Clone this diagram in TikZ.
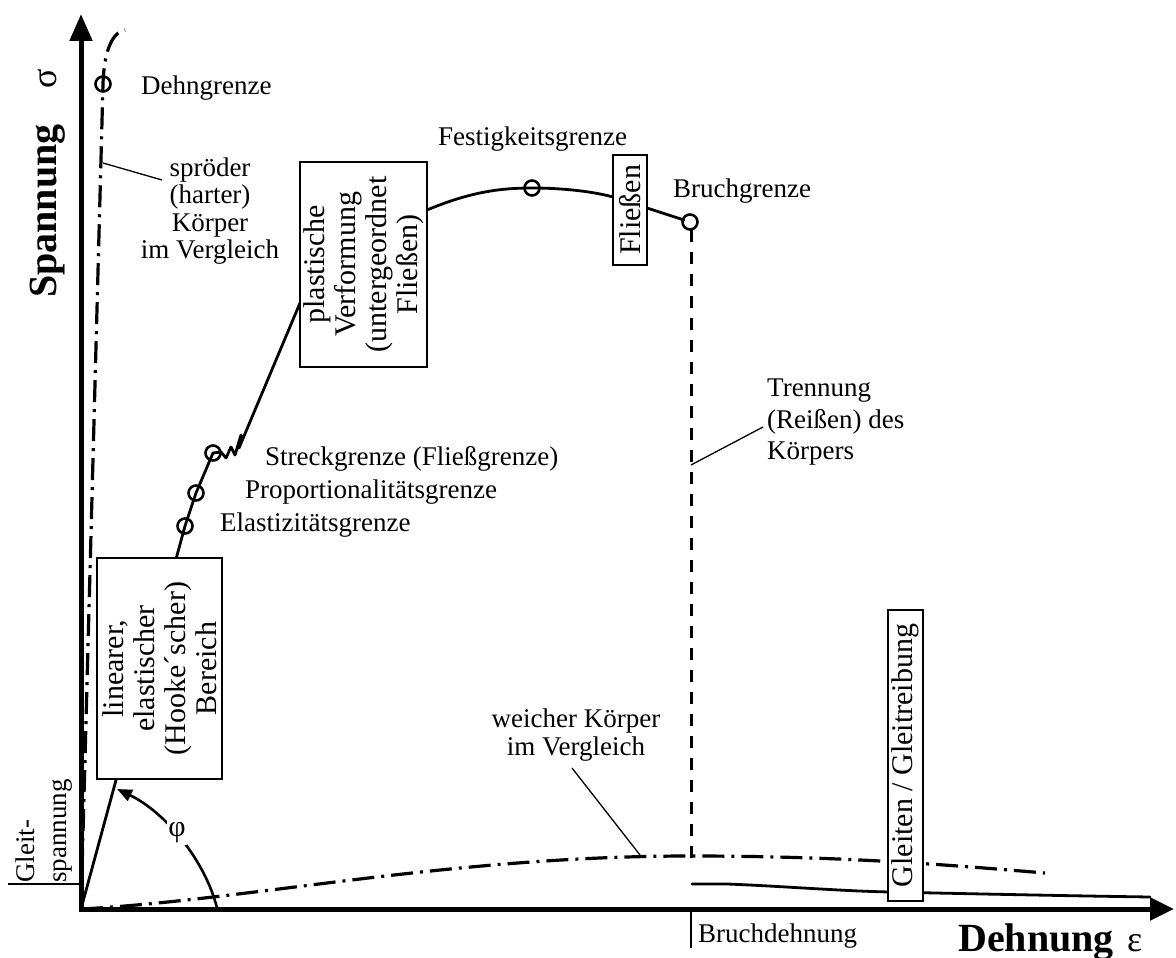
\documentclass[tikz,border=0pt]{standalone}
\usepackage{fontspec}
\setmainfont{Liberation Serif}
\usetikzlibrary{arrows.meta}
\begin{document}
\begin{tikzpicture}[x=1pt,y=-1pt,
  curve/.style={line width=2.8pt,line join=round,line cap=round},
  ddot/.style={line width=3.2pt,dash pattern=on 22pt off 7pt on 3pt off 7pt},
  dsh/.style={line width=3pt,dash pattern=on 12pt off 10pt},
  leader/.style={line width=1.3pt},
  axis/.style={line width=5pt,line join=miter},
  txt/.style={font=\fontsize{27}{29}\selectfont,inner sep=0pt},
  rbox/.style={draw,line width=2.6pt,fill=white,rotate=90,align=center,inner sep=0pt,font=\fontsize{30}{31}\selectfont},
  ptmark/.style={circle,draw,line width=2.6pt,minimum size=15pt,inner sep=0pt},
  axlbl/.style={font=\fontsize{40}{42}\selectfont\bfseries,inner sep=0pt}]
\useasboundingbox (0,0) rectangle (1176,958);

% axes
\coordinate (O) at (81,909);
\coordinate (ytip) at (81,14);
\coordinate (xtip) at (1174,909);
\draw[axis,{Triangle[length=27pt,width=22pt]}-{Triangle[length=24pt,width=22pt]}] (ytip) -- (O) -- (xtip);

% brittle body (dash-dot)
\draw[ddot] (O) -- (103,84) .. controls (104,52) and (112,32) .. (125,30);

% soft body (dash-dot)
\draw[ddot] (O) .. controls (250,900) and (450,856) .. (690,856) .. controls (850,856) and (960,866) .. (1045,873);

% sliding curve
\draw[curve] (692,884) -- (727,884) .. controls (780,886) and (840,891) .. (890,892) .. controls (980,894) and (1080,896) .. (1150,897);

% main stress-strain curve
\draw[curve] (O) -- (185,526) -- (196,493) -- (213,453) -- (221,452) -- (226,458) -- (231,447) -- (235,455) -- (241,435) -- (239,448) -- (300,303) -- (427,210)
  .. controls (470,192) and (500,188) .. (532,188) .. controls (565,188) and (595,192) .. (613,197) -- (647,208) -- (684,220);

% fracture dashed line
\draw[dsh] (691,230) -- (691,867);

% angle phi
\draw[line width=2.6pt,-{Triangle[length=15pt,width=12pt]}] (217,908) .. controls (205,860) and (165,812) .. (117,789);
\node[txt,fill=white,inner sep=1.5pt,font=\fontsize{30}{30}\selectfont] (phi) at (177,833) {φ};

% boxes
\node[rbox,minimum width=221pt,minimum height=125pt] (lin) at (159.5,668.5) {linearer,\\elastischer\\(Hooke´scher)\\Bereich};
\node[rbox,minimum width=205pt,minimum height=127pt] (plast) at (363.5,264.5) {plastische\\Verformung\\(untergeordnet\\Fließen)};
\node[rbox,minimum width=110pt,minimum height=34pt] (fl) at (630,210) {Fließen};
\node[rbox,minimum width=291pt,minimum height=35pt] (gl) at (905.5,755.5) {Gleiten / Gleitreibung};

% marker circles
\node[ptmark] (dg) at (103,84) {};
\node[ptmark] (el) at (185,526) {};
\node[ptmark] (pr) at (196,493) {};
\node[ptmark] (st) at (213,453) {};
\node[ptmark] (fg) at (532,188) {};
\node[ptmark] (bg) at (690,222) {};

% labels
\node[txt,anchor=base west] (tdg) at (141,95) {Dehngrenze};
\node[txt,align=center,font=\fontsize{27}{27.5}\selectfont] (tspr) at (210,211) {spröder\\(harter)\\Körper\\im Vergleich};
\node[txt,anchor=base west] (tfg) at (438,145) {Festigkeitsgrenze};
\node[txt,anchor=base west] (tbg) at (673,197) {Bruchgrenze};
\node[txt,anchor=base west] (tst) at (265,465) {Streckgrenze (Fließgrenze)};
\node[txt,anchor=base west] (tpr) at (245,498) {Proportionalitätsgrenze};
\node[txt,anchor=base west] (tel) at (220,531) {Elastizitätsgrenze};
\node[txt,align=left,anchor=west,font=\fontsize{27}{31.5}\selectfont] (ttr) at (767,422.5) {Trennung\\(Reißen) des\\Körpers};
\node[txt,align=center,font=\fontsize{27}{28}\selectfont] (tw) at (576,735) {weicher Körper\\im Vergleich};
\node[txt,rotate=90,align=left,anchor=south west,font=\fontsize{27}{32}\selectfont] (tgs) at (73,883) {Gleit-\\spannung};
\node[txt,anchor=base west] (tbd) at (698,942) {Bruchdehnung};

% axis labels
\node[axlbl,rotate=90,anchor=base west] (ysp) at (56,298) {Spannung};
\node[axlbl,rotate=90,anchor=base west,font=\fontsize{36}{36}\selectfont] (ysig) at (56,89) {σ};
\node[axlbl,anchor=base west] (xdn) at (958,951) {Dehnung};
\node[axlbl,anchor=base west,font=\fontsize{36}{36}\selectfont] (xeps) at (1127,951) {ε};

% leader lines and ticks
\coordinate (l1a) at (103,163); \coordinate (l1b) at (162,180);
\draw[leader] (l1a) -- (l1b);
\coordinate (l2a) at (691,465); \coordinate (l2b) at (763,427);
\draw[leader] (l2a) -- (l2b);
\coordinate (l3a) at (640,855); \coordinate (l3b) at (572,768);
\draw[leader] (l3a) -- (l3b);
\coordinate (bdt) at (691,948);
\draw[leader] (691,912) -- (bdt);
\coordinate (gsl) at (8,884);
\draw[leader] (gsl) -- (79,884);
\end{tikzpicture}
\end{document}
